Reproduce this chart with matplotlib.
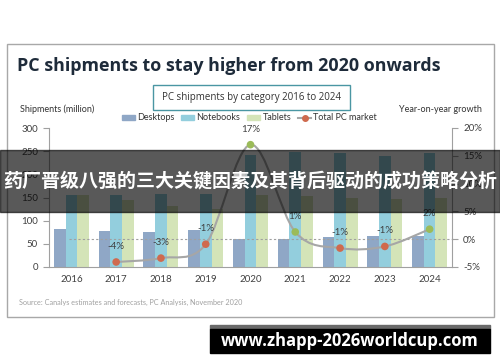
import numpy as np
import matplotlib
matplotlib.use('Agg')
import matplotlib.pyplot as plt
from matplotlib.patches import Rectangle, Patch, PathPatch
from matplotlib.lines import Line2D
from matplotlib.path import Path

# Data
years = ['2016', '2017', '2018', '2019', '2020', '2021', '2022', '2023', '2024']
desktops = [82, 78, 76, 80, 60, 60, 65, 66, 66]
notebooks = [156, 156, 157, 158, 242, 248, 246, 240, 246]
tablets = [155, 145, 132, 126, 155, 153, 149, 147, 149]
growth_years = ['2017', '2018', '2019', '2020', '2021', '2022', '2023', '2024']
growth = [-4.1, -3.4, -0.9, 17.0, 1.3, -1.6, -1.3, 1.8]
growth_labels = ['-4%', '-3%', '-1%', '17%', '1%', '-1%', '-1%', '2%']
growth_colors = ['#CF6A4E', '#CF6A4E', '#CF6A4E', '#9BBB59', '#9BBB59',
                 '#CF6A4E', '#CF6A4E', '#9BBB59']

plt.rcParams['font.family'] = ['Lato', 'DejaVu Sans']

fig = plt.figure(figsize=(5, 3.62), dpi=100)
W, H = 500, 362

def fx(px):
    return px / W

def fy(py):
    return 1 - py / H

# Card border
fig.patches.append(Rectangle((fx(7), fy(317)), fx(487), (317 - 44) / H,
                             transform=fig.transFigure, fill=False,
                             edgecolor='#A8A8A8', lw=1))

# Title
fig.text(fx(17), fy(66), 'PC shipments to stay higher from 2020 onwards',
         fontsize=12.9, fontweight='bold', color='#1E2B3A', family='Open Sans',
         va='center', ha='left')

# Subtitle box
fig.patches.append(Rectangle((fx(153), fy(110)), fx(197), 25 / H,
                             transform=fig.transFigure, fill=False,
                             edgecolor='#4A96A3', lw=1))
fig.text(fx(251.5), fy(97.5), 'PC shipments by category 2016 to 2024',
         fontsize=7, color='#333333', ha='center', va='center', family='Open Sans')

fig.text(fx(20), fy(109), 'Shipments (million)', fontsize=6.5, color='#333333',
         ha='left', va='center')
fig.text(fx(482), fy(109), 'Year-on-year growth', fontsize=6.5, color='#333333',
         ha='right', va='center')

# Axes
ax = fig.add_axes([fx(49), fy(267), fx(452 - 49), (267 - 128) / H])
x = np.arange(len(years))
bw = 0.26
ax.bar(x - bw, desktops, bw, color='#8FA7C6', zorder=2)
ax.bar(x, notebooks, bw, color='#93CEDD', zorder=2)
ax.bar(x + bw, tablets, bw, color='#D4E4B8', zorder=2)
ax.set_xlim(-0.5, len(years) - 0.5)
ax.set_ylim(0, 300)
ax.set_yticks(range(0, 301, 50))
ax.set_xticks(x)
ax.set_xticklabels(years)
ax.tick_params(axis='x', length=0, pad=6, labelsize=7, labelcolor='#404040')
ax.tick_params(axis='y', length=4, width=0.8, color='#A0A0A0', pad=4,
               labelsize=7, labelcolor='#404040')
for s in ['top', 'right']:
    ax.spines[s].set_visible(False)
ax.spines['left'].set_color('#A0A0A0')
ax.spines['bottom'].set_color('#A0A0A0')
ax.spines['left'].set_linewidth(0.8)
ax.spines['bottom'].set_linewidth(0.8)

ax2 = ax.twinx()
ax2.set_ylim(-5, 20)
ax2.set_yticks([-5, 0, 5, 10, 15, 20])
ax2.set_yticklabels(['-5%', '0%', '5%', '10%', '15%', '20%'])
ax2.tick_params(axis='y', length=4, width=0.8, color='#A0A0A0', pad=4,
                labelsize=7, labelcolor='#404040')
for s in ['top', 'left', 'bottom']:
    ax2.spines[s].set_visible(False)
ax2.spines['right'].set_color('#A0A0A0')
ax2.spines['right'].set_linewidth(0.8)

# dotted zero line
ax2.plot([-0.05, 8.6], [0, 0], ls=(0, (2, 2)), color='#A0A0A0', lw=0.8,
         clip_on=False, zorder=1)

# smoothed growth line (Catmull-Rom as Bezier curves)
gx = np.array([years.index(y) for y in growth_years], dtype=float)
gy = np.array(growth, dtype=float)
pts = np.column_stack([gx, gy])
verts = [pts[0]]
codes = [Path.MOVETO]
for i in range(len(pts) - 1):
    p0 = pts[i - 1] if i > 0 else pts[i]
    p1 = pts[i]
    p2 = pts[i + 1]
    p3 = pts[i + 2] if i + 2 < len(pts) else pts[i + 1]
    c1 = p1 + (p2 - p0) / 6
    c2 = p2 - (p3 - p1) / 6
    verts += [c1, c2, p2]
    codes += [Path.CURVE4] * 3
ax2.add_patch(PathPatch(Path(verts, codes), fill=False, edgecolor='#A6A6A6',
                        lw=1.5, zorder=3))
ax2.scatter(gx, gy, s=30, c=growth_colors, zorder=4, edgecolors='none')
for xi, yi, lab in zip(gx, gy, growth_labels):
    ax2.annotate(lab, (xi, yi), xytext=(0, 8), textcoords='offset points',
                 ha='center', va='bottom', fontsize=7, color='#404040')

# Legend
handles = [Patch(color='#8FA7C6'), Patch(color='#93CEDD'), Patch(color='#D4E4B8'),
           Line2D([], [], color='#A6A6A6', lw=1.5, marker='o', markersize=4,
                  markerfacecolor='#CF6A4E', markeredgecolor='#CF6A4E')]
fig.legend(handles, ['Desktops', 'Notebooks', 'Tablets', 'Total PC market'],
           loc='center', bbox_to_anchor=(fx(249.5), fy(118)), ncol=4,
           frameon=False, fontsize=6.5, handlelength=1.4, handleheight=0.55,
           handletextpad=0.25, columnspacing=0.8, labelcolor='#333333')

# Source
fig.text(fx(19), fy(302), 'Source: Canalys estimates and forecasts, PC Analysis, November 2020',
         fontsize=5.2, color='#A0A0A0', ha='left', va='center')

# Overlay banner
fig.patches.append(Rectangle((0, fy(212)), 1, 62 / H, transform=fig.transFigure,
                             color='black', alpha=0.65, zorder=10))
fig.text(0.5, fy(182), '药厂晋级八强的三大关键因素及其背后驱动的成功策略分析',
         family=['Noto Sans CJK SC', 'DejaVu Sans'], fontsize=13.7,
         fontweight='bold', color='white', ha='center', va='center', zorder=11)

# Watermark
fig.patches.append(Rectangle((fx(210), fy(329)), fx(280), 4 / H,
                             transform=fig.transFigure, color='#6A6A6A', zorder=10))
fig.patches.append(Rectangle((fx(210), fy(353)), fx(280), 24 / H,
                             transform=fig.transFigure, color='black', zorder=10))
fig.text(fx(350), fy(340.5), 'www.zhapp-2026worldcup.com', family='Open Sans',
         fontsize=12, fontweight='bold', color='white', ha='center', va='center',
         zorder=11)

fig.savefig('out.png', dpi=100)
